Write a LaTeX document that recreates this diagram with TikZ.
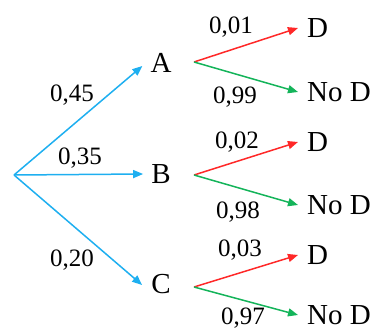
\documentclass[tikz,border=0pt]{standalone}
\usepackage{fontspec}
\setmainfont{Liberation Serif}
\usetikzlibrary{arrows.meta}
\definecolor{cblue}{RGB}{30,175,240}
\definecolor{cred}{RGB}{255,40,40}
\definecolor{cgreen}{RGB}{20,180,90}
\tikzset{
  lvl/.style={inner sep=0pt, font=\fontsize{29}{29}\selectfont},
  prob/.style={inner sep=0pt, font=\fontsize{25}{25}\selectfont},
  arr/.style={line width=1.5pt, -{Triangle[length=10pt,width=8pt]}},
  barr/.style={arr, cblue},
  rarr/.style={arr, cred},
  garr/.style={arr, cgreen}
}
\begin{document}
\begin{tikzpicture}[x=1pt,y=-1pt]
\useasboundingbox (0,0) rectangle (375,332);
\coordinate (r) at (14,175);
\node[lvl] (A) at (161,63) {A};
\node[lvl] (B) at (161,174) {B};
\node[lvl] (C) at (161,284) {C};
\draw[barr] (r) -- ([xshift=-8pt,yshift=-3pt]A.west);
\draw[barr] (r) -- ([xshift=-8pt]B.west);
\draw[barr] (r) -- ([xshift=-9pt,yshift=-1pt]C.west);
\node[prob] at (72,95) {0,45};
\node[prob] at (80,158) {0,35};
\node[prob] at (72,260) {0,20};
\coordinate (a0) at (194,62);
\coordinate (b0) at (194,175);
\coordinate (c0) at (194,287);
\node[lvl,anchor=west] (AD) at (307,28) {D};
\node[lvl,anchor=west] (AN) at (307,92) {No D};
\node[lvl,anchor=west] (BD) at (307,142) {D};
\node[lvl,anchor=west] (BN) at (307,205) {No D};
\node[lvl,anchor=west] (CD) at (307,255) {D};
\node[lvl,anchor=west] (CN) at (307,315) {No D};
\draw[rarr] (a0) -- ([xshift=-9pt]AD.west);
\draw[garr] (a0) -- ([xshift=-9pt]AN.west);
\draw[rarr] (b0) -- ([xshift=-9pt]BD.west);
\draw[garr] (b0) -- ([xshift=-9pt]BN.west);
\draw[rarr] (c0) -- ([xshift=-9pt]CD.west);
\draw[garr] (c0) -- ([xshift=-9pt]CN.west);
\node[prob] at (231,27) {0,01};
\node[prob] at (235,97) {0,99};
\node[prob] at (237,142) {0,02};
\node[prob] at (238,212) {0,98};
\node[prob] at (240,250) {0,03};
\node[prob] at (243,318) {0,97};
\end{tikzpicture}
\end{document}
